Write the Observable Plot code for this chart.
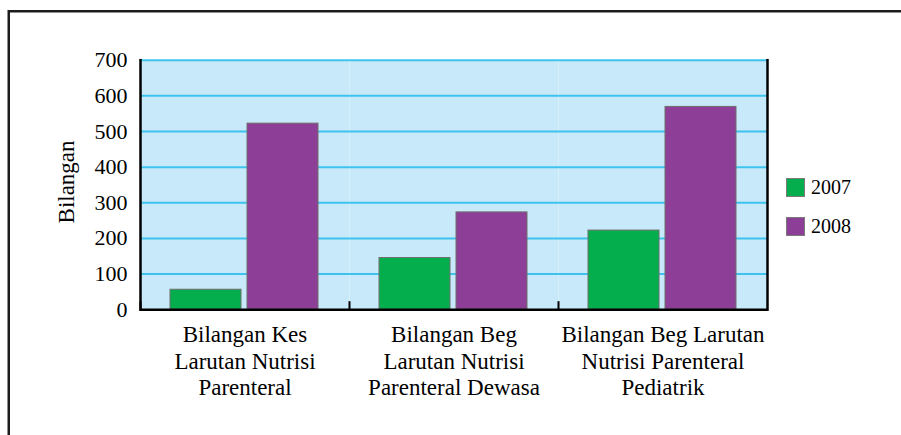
<!DOCTYPE html>
<html>
<head>
<meta charset="utf-8">
<script src="https://cdn.jsdelivr.net/npm/d3@7"></script>
<script src="https://cdn.jsdelivr.net/npm/@observablehq/plot@0.6"></script>
<style>
  body { margin: 0; font-family: 'Liberation Serif'; }
  .leg-item { position: absolute; display: flex; align-items: center; font-family: 'Liberation Serif'; font-size: 20px; color: #000; line-height: 1; }
  .leg-sw { width: 17px; height: 17px; border: 1px solid #7a7a7a; margin-right: 6px; }
</style>
</head>
<body>
<div style="position:absolute;left:860px;top:400px;font-family:'Liberation Serif';font-size:20px;color:#fff">.</div>
<svg width="901" height="435" style="position:absolute;left:0;top:0">
  <line x1="8.75" y1="11.25" x2="901" y2="11.25" stroke="#1c1c1c" stroke-width="2.5"/>
  <line x1="8.75" y1="10" x2="8.75" y2="435" stroke="#1c1c1c" stroke-width="2.5"/>
</svg>
<div id="chart" style="position:absolute;left:0;top:0"></div>
<div id="legend"></div>
<script>
const categories = [
  "Bilangan Kes\nLarutan Nutrisi\nParenteral",
  "Bilangan Beg\nLarutan Nutrisi\nParenteral Dewasa",
  "Bilangan Beg Larutan\nNutrisi Parenteral\nPediatrik"
];
const years = ["2007", "2008"];
const values2007 = [56, 145, 222];
const values2008 = [522, 273, 569];
const yTicks = [0, 100, 200, 300, 400, 500, 600, 700];
const colors = ["#05ae4c", "#8d3e96"];
const yLabel = "Bilangan";

const series = {"2007": values2007, "2008": values2008};
const rows = categories.flatMap((c, i) => years.map(y => ({category: c, year: y, value: series[y][i]})));

const font = "Liberation Serif";

const plot = Plot.plot({
  width: 901,
  height: 435,
  marginLeft: 140,
  marginRight: 133.5,
  marginTop: 59.7,
  marginBottom: 125.8,
  style: {fontFamily: font, background: "transparent"},
  fx: {domain: categories, padding: 0, label: null},
  x: {domain: years, paddingInner: 0.0734, paddingOuter: 0.382, axis: null},
  y: {domain: [0, 700], axis: null},
  color: {domain: years, range: colors},
  marks: [
    Plot.frame({fill: "#c7e9f9", stroke: "none"}),
    Plot.ruleY(yTicks.filter(d => d > 0), {stroke: "#3ec3ef", strokeWidth: 2}),
    Plot.barY(rows, {fx: "category", x: "year", y: "value", fill: "year", stroke: "#6f6f6f", strokeWidth: 1}),
    Plot.ruleY([0], {stroke: "#000", strokeWidth: 2.5}),
    Plot.frame({anchor: "left", facetAnchor: "left", stroke: "#000", strokeWidth: 2.5}),
    Plot.frame({anchor: "right", facetAnchor: "right", stroke: "#000", strokeWidth: 2.5}),
    Plot.frame({anchor: "left", insetTop: 242, stroke: "#000", strokeWidth: 2}),
    Plot.axisY({ticks: yTicks, tickSize: 0, tickPadding: 13, fontSize: 22, fontFamily: font, label: null}),
    Plot.axisFx({anchor: "bottom", tickSize: 0, tickPadding: 14, fontSize: 23, lineHeight: 1.15, fontFamily: font, label: null}),
    Plot.text([yLabel], {text: d => d, frameAnchor: "left", facetAnchor: "left", textAnchor: "middle", lineAnchor: "middle", dx: -74, dy: -3, rotate: -90, fontSize: 23, fontFamily: font, fill: "#000"})
  ]
});
document.getElementById("chart").appendChild(plot);

const colorScale = plot.scale("color");
const legend = document.getElementById("legend");
colorScale.domain.forEach((yr, i) => {
  const item = document.createElement("div");
  item.className = "leg-item";
  item.style.left = "786px";
  item.style.top = (177 + i * 39.3) + "px";
  const sw = document.createElement("div");
  sw.className = "leg-sw";
  sw.style.background = colorScale.range[i];
  const lab = document.createElement("span");
  lab.textContent = yr;
  item.appendChild(sw);
  item.appendChild(lab);
  legend.appendChild(item);
});
</script>
</body>
</html>
